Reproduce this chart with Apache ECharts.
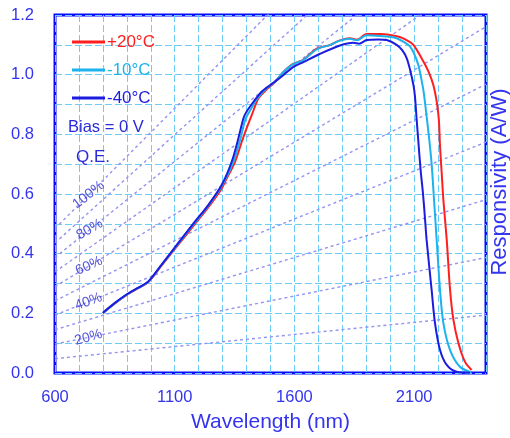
<!DOCTYPE html>
<html><head><meta charset="utf-8">
<script src="https://cdn.jsdelivr.net/npm/echarts@6/dist/echarts.min.js"></script>
<style>html,body{margin:0;padding:0;background:#fff}#c{width:510px;height:438px}</style>
</head><body><div id="c"></div>
<script>
// ---- data ----
const seriesNames = ['+20°C', '-10°C', '-40°C'];
const seriesColors = ['#ff1f1f', '#1cb2ee', '#1c1ce0'];

const wlRed = [800,850,900,950,990,1045,1115,1185,1240,1296,1310,1352,1380,1400,1422,1450,1490,1519,1553,1594,1637,1693,1750,1790,1832,1860,1902,1957,2000,2040,2070,2097,2138,2160,2180,2195,2203,2208,2215,2222,2236,2250,2264,2285,2312,2340];
const rRed  = [0.200,0.233,0.262,0.285,0.305,0.360,0.430,0.500,0.555,0.618,0.641,0.708,0.775,0.820,0.865,0.921,0.955,0.975,1.008,1.036,1.050,1.087,1.100,1.115,1.122,1.117,1.136,1.136,1.133,1.126,1.115,1.100,1.045,1.010,0.965,0.905,0.850,0.760,0.670,0.580,0.446,0.278,0.178,0.100,0.038,0.010];

const wlCyan = [800,850,900,950,990,1045,1115,1185,1240,1300,1345,1373,1395,1415,1445,1480,1519,1553,1594,1637,1693,1750,1790,1832,1860,1902,1957,2000,2027,2060,2083,2100,2117,2130,2140,2152,2162,2173,2183,2194,2208,2222,2250,2291,2340];
const rCyan  = [0.200,0.234,0.263,0.286,0.306,0.362,0.434,0.505,0.560,0.632,0.708,0.780,0.850,0.880,0.920,0.952,0.976,1.008,1.035,1.049,1.085,1.100,1.114,1.120,1.115,1.132,1.130,1.127,1.122,1.108,1.094,1.070,1.033,0.985,0.940,0.860,0.790,0.700,0.580,0.446,0.278,0.167,0.077,0.021,0.002];

const wlBlue = [800,850,900,950,990,1045,1115,1185,1240,1296,1338,1366,1387,1400,1430,1463,1519,1553,1594,1637,1707,1790,1846,1870,1902,1950,1985,2027,2050,2069,2083,2097,2103,2110,2117,2127,2137,2145,2152,2173,2187,2208,2236,2277,2333];
const rBlue  = [0.202,0.235,0.264,0.287,0.307,0.363,0.436,0.508,0.563,0.630,0.708,0.787,0.854,0.876,0.910,0.943,0.977,0.998,1.025,1.042,1.070,1.098,1.107,1.104,1.116,1.118,1.116,1.100,1.082,1.055,1.016,0.965,0.930,0.854,0.781,0.680,0.600,0.520,0.446,0.278,0.167,0.077,0.027,0.004,0.001];

// constant-QE reference lines: responsivity at 600 nm and 2400 nm
const qeLevels = [10,20,30,40,50,60,70,80,90,100];
const qeR600  = [0.048,0.097,0.145,0.194,0.242,0.290,0.339,0.387,0.436,0.484];
const qeR2400 = [0.194,0.387,0.581,0.774,0.968,1.161,1.355,1.548,1.742,1.936];
// labelled QE lines and where their labels sit
const qeLabels = ['20%','40%','60%','80%','100%'];
const qeLabelWl = [740,740,742,745,740];
const qeLabelR  = [0.119,0.239,0.359,0.481,0.597];
const qeLabelRot = [16,20,24,30,38];

const xTickLabels = [600,1100,1600,2100];
const yTickLabels = [0,0.2,0.4,0.6,0.8,1.0,1.2];

// ---- chart ----
const FONT = 'Liberation Sans, Arial, sans-serif';
const TXT = '#3434ee';
const chart = echarts.init(document.getElementById('c'));

const curves = [[wlRed,rRed],[wlCyan,rCyan],[wlBlue,rBlue]].map((p,i)=>({
  name: seriesNames[i], type:'line', showSymbol:false, symbol:'none', smooth:0.3,
  data: p[0].map((w,j)=>[w,p[1][j]]),
  lineStyle:{color:seriesColors[i], width:2}, itemStyle:{color:seriesColors[i]},
  z: 5+i, animation:false
}));

const qeSeries = qeLevels.map((q,i)=>({
  name:'qe'+q, type:'line', showSymbol:false, symbol:'none', clip:true,
  data:[[600,qeR600[i]],[2400,qeR2400[i]]],
  lineStyle:{color:'#9494f0', width:1.4, type:[3,3]}, z:2, silent:true, animation:false
}));

const qeLabelSeries = {
  type:'scatter', symbolSize:0, silent:true, z:3, animation:false,
  data: qeLabels.map((t,i)=>({value:[qeLabelWl[i],qeLabelR[i]], label:{show:true, formatter:t, rotate:qeLabelRot[i], position:'inside', color:'#2a2ad0', fontSize:14, fontFamily:FONT}}))
};

chart.setOption({
  backgroundColor:'#fff',
  animation:false,
  grid:{left:55, right:24, top:15, bottom:65, show:true, borderColor:'#0a0aff', borderWidth:3, backgroundColor:'transparent'},
  legend:{
    orient:'vertical', left:67, top:27, icon:'rect', itemWidth:33, itemHeight:3, itemGap:8,
    textStyle:{fontSize:17, fontFamily:FONT, lineHeight:20, padding:[0,0,0,-3]},
    data: seriesNames.map((n,i)=>({name:n, itemStyle:{color:seriesColors[i]}, textStyle:{color:seriesColors[i]}}))
  },
  xAxis:{
    type:'value', min:600, max:2400, interval:100,
    name:'Wavelength (nm)', nameLocation:'middle', nameGap:39,
    nameTextStyle:{fontSize:21, fontFamily:FONT, color:TXT},
    axisLine:{show:false}, axisTick:{show:false},
    axisLabel:{fontSize:16.5, fontFamily:FONT, color:TXT, margin:16, showMaxLabel:true,
      formatter:v=>xTickLabels.indexOf(Math.round(v))>=0 ? String(Math.round(v)) : ''},
    splitLine:{show:true, lineStyle:{color:'#6ccdf8', width:1, type:[7,3]}}
  },
  yAxis:{
    type:'value', min:0, max:1.2, interval:0.1,
    axisLine:{show:false}, axisTick:{show:false},
    axisLabel:{fontSize:16.5, fontFamily:FONT, color:TXT, margin:21,
      formatter:v=>yTickLabels.some(t=>Math.abs(t-v)<1e-6) ? v.toFixed(1) : ''},
    splitLine:{show:true, lineStyle:{color:'#6ccdf8', width:1, type:[7,3]}}
  },
  graphic:[
    {type:'text', left:68, top:119, style:{text:'Bias = 0 V', fontSize:16.5, fontFamily:FONT, fill:'#2a2ad8'}, z:10},
    {type:'text', left:76, top:149, style:{text:'Q.E.', fontSize:17, fontFamily:FONT, fill:'#2a2ad8'}, z:10},
    {type:'text', x:500, y:182, rotation:Math.PI/2, style:{text:'Responsivity (A/W)', fontSize:22, fontFamily:FONT, fill:TXT, align:'center', verticalAlign:'middle'}, z:10}
  ],
  series:[...qeSeries, qeLabelSeries, ...curves]
});
</script></body></html>
